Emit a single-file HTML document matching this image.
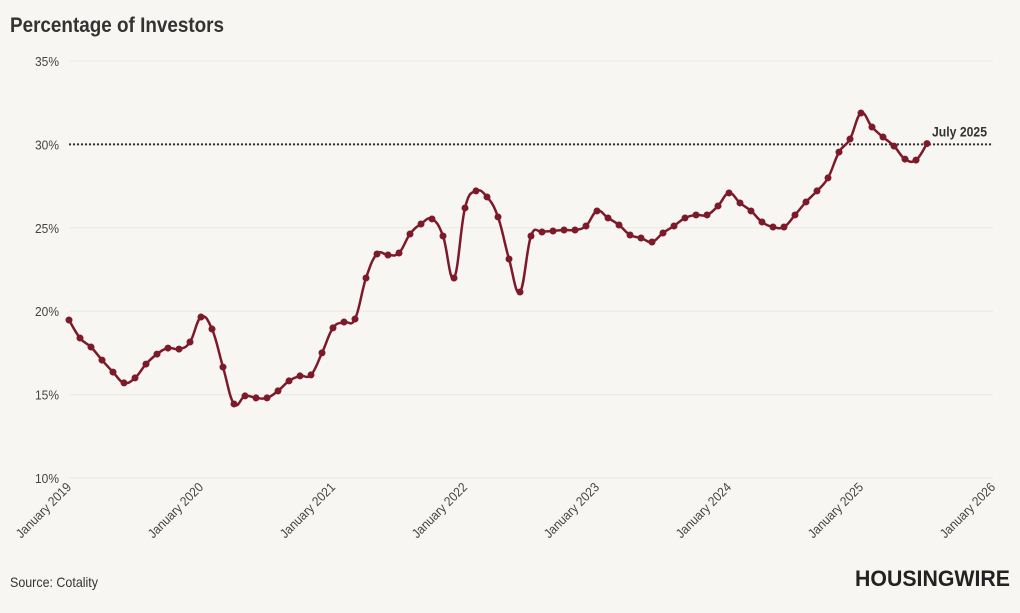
<!DOCTYPE html>
<html><head><meta charset="utf-8"><style>
html,body{margin:0;padding:0;background:#f8f6f2;}
body{width:1020px;height:608px;overflow:hidden;font-family:"Liberation Sans Narrow","Liberation Sans",sans-serif;}
svg text{font-family:"Liberation Sans Narrow","Liberation Sans",sans-serif;}
</style></head><body>
<svg id="chart" width="1020" height="608">
<text x="10" y="32" font-size="21" font-weight="bold" fill="#333" textLength="214" lengthAdjust="spacingAndGlyphs">Percentage of Investors</text>
<g id="grid"></g><g id="xaxis"></g><g id="series"></g>
<text x="10" y="587" font-size="14" fill="#333" textLength="88" lengthAdjust="spacingAndGlyphs">Source: Cotality</text>
<text x="855" y="586" font-size="22" font-weight="bold" fill="#222" textLength="155" lengthAdjust="spacingAndGlyphs">HOUSINGWIRE</text>
</svg>
<script>
const yTicks=[10,15,20,25,30,35];
const xTickLabels=["January 2019","January 2020","January 2021","January 2022","January 2023","January 2024","January 2025","January 2026"];
const startYear=2019;
const values=[19.47,18.39,17.85,17.07,16.35,15.70,16.0,16.83,17.43,17.79,17.73,18.15,
19.65,18.93,16.65,14.44,14.92,14.8,14.8,15.22,15.82,16.12,16.18,17.5,
19.0,19.35,19.53,21.99,23.43,23.37,23.49,24.63,25.23,25.53,24.51,21.99,
26.19,27.21,26.85,25.65,23.13,21.15,24.51,24.75,24.81,24.87,24.87,25.11,
26.01,25.59,25.17,24.57,24.39,24.15,24.69,25.11,25.59,25.77,25.77,26.31,
27.09,26.49,26.01,25.35,25.05,25.05,25.77,26.55,27.21,27.99,29.54,30.32,
31.88,31.04,30.44,29.9,29.12,29.06,30.05];
const refValue=30.0;
const refLabel="July 2025";
const NS="http://www.w3.org/2000/svg";
const x0=69,x1=993,y0=478,y1=61;
const xs=m=>x0+(x1-x0)*m/84;
const ys=v=>y0-(v-10)/(35-10)*(y0-y1);
function mk(t,a,p){const e=document.createElementNS(NS,t);for(const k in a)e.setAttribute(k,a[k]);p.appendChild(e);return e;}
const grid=document.getElementById('grid');
yTicks.forEach(t=>{
 const l=mk('line',{x1:x0,x2:x1,y1:ys(t),y2:ys(t),stroke:'#ebe8e3','stroke-width':1},grid);
 
 
 const tx=mk('text',{x:59,y:ys(t)+5,'font-size':13,fill:'#444','text-anchor':'end',textLength:24,lengthAdjust:'spacingAndGlyphs'},grid);
 tx.textContent=t+'%';
 
 
});
const xa=document.getElementById('xaxis');
xTickLabels.forEach((lab,i)=>{
 const x=xs(i*12);
 const tx=mk('text',{x:x+3,y:y0+10,'font-size':13,fill:'#444','text-anchor':'end',textLength:72,lengthAdjust:'spacingAndGlyphs',transform:`rotate(-45 ${x+3} ${y0+10})`},xa);
 tx.textContent=lab;
 
 
});
const s=document.getElementById('series');
const ry=ys(refValue);
const rl=mk('line',{x1:x0,x2:x1,y1:ry,y2:ry,stroke:'#333','stroke-width':2,'stroke-dasharray':'2,2'},s);


const pts=values.map((v,i)=>[xs(i),ys(v)]);
let d=`M${pts[0][0]},${pts[0][1]}`;
for(let i=0;i<pts.length-1;i++){
 const p0=pts[Math.max(0,i-1)],p1=pts[i],p2=pts[i+1],p3=pts[Math.min(pts.length-1,i+2)];
 const t=0.2;
 d+=` C${p1[0]+(p2[0]-p0[0])*t},${p1[1]+(p2[1]-p0[1])*t} ${p2[0]-(p3[0]-p1[0])*t},${p2[1]-(p3[1]-p1[1])*t} ${p2[0]},${p2[1]}`;
}
const path=mk('path',{d:d,fill:'none',stroke:'#7d1a2a','stroke-width':2.5},s);


pts.forEach(p=>{
 const c=mk('circle',{cx:p[0],cy:p[1],r:3.5,fill:'#7d1a2a'},s);
 
 
});
const lt=mk('text',{x:987,y:ry-8,'font-size':14,'font-weight':'bold',fill:'#333','text-anchor':'end',textLength:55,lengthAdjust:'spacingAndGlyphs'},s);
lt.textContent=refLabel;


</script>
</body></html>
